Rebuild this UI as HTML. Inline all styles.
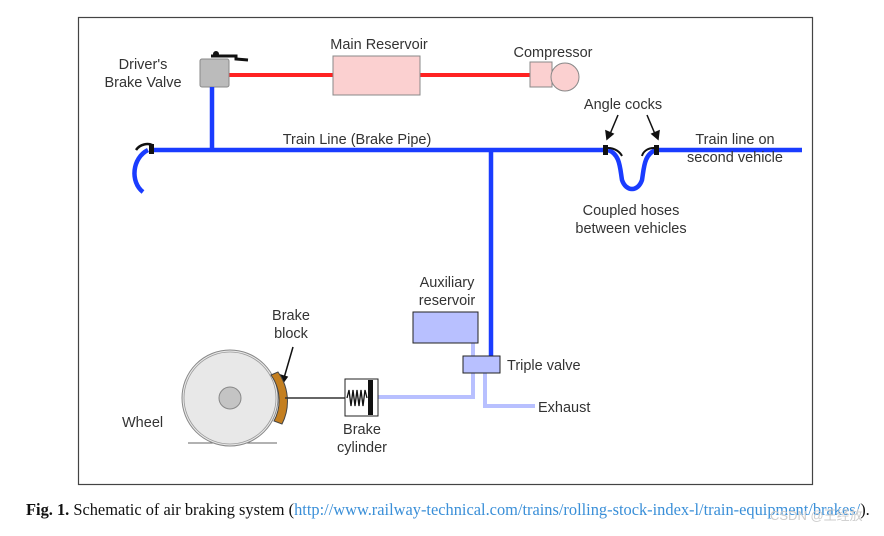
<!DOCTYPE html>
<html><head><style>
body{margin:0;width:884px;height:531px;background:#fff;overflow:hidden}
svg text{font-family:"Liberation Sans",sans-serif;font-size:14.5px;fill:#333}
</style></head><body>
<svg width="884" height="531" viewBox="0 0 884 531">
<rect x="78.5" y="17.5" width="734" height="467" fill="#fff" stroke="#444" stroke-width="1.2"/>
<line x1="229" y1="75" x2="530" y2="75" stroke="#f22" stroke-width="4"/>
<rect x="333" y="56" width="87" height="39" fill="#fbd0d0" stroke="#888"/>
<rect x="530" y="62" width="22" height="25" fill="#fbd0d0" stroke="#888"/>
<circle cx="565" cy="77" r="14" fill="#fbd0d0" stroke="#888"/>
<rect x="200" y="59" width="29" height="28" rx="2" fill="#bbb" stroke="#888"/>
<path d="M211 56 L236 56 L236 59 L248 60" stroke="#111" stroke-width="3" fill="none"/>
<circle cx="216" cy="54" r="3" fill="#111"/>
<g stroke="#1a3cff" stroke-width="4.5" fill="none">
<line x1="212" y1="87" x2="212" y2="150"/>
<line x1="152" y1="150" x2="608" y2="150"/>
<line x1="491" y1="150" x2="491" y2="358"/>
<path d="M148 150 C132 158 130 182 143 192"/>
<path d="M608 150 C620 154 620 168 622 180 C626 192 638 192 642 180 C644 168 644 154 656 150"/>
<line x1="656" y1="150" x2="802" y2="150"/>
</g>
<path d="M136 150 C140 144 148 143 152 145" stroke="#111" stroke-width="2.5" fill="none"/>
<rect x="149" y="144" width="5" height="10" fill="#111"/>
<rect x="603" y="145" width="5" height="10" fill="#111"/>
<rect x="654" y="145" width="5" height="10" fill="#111"/>
<path d="M608 148 C615 148 620 152 622 156" stroke="#111" stroke-width="2" fill="none"/>
<path d="M654 148 C647 148 643 152 642 156" stroke="#111" stroke-width="2" fill="none"/>
<g stroke="#111" stroke-width="1.5" fill="#111">
<line x1="618" y1="115" x2="610" y2="134"/><path d="M607 139 L606 131 L613 134 Z"/>
<line x1="647" y1="115" x2="655" y2="134"/><path d="M658 139 L652 134 L659 131 Z"/>
<line x1="293" y1="347" x2="284" y2="378"/><path d="M282 384 L280 375 L287 377 Z"/>
</g>
<g stroke="#b8c0ff" stroke-width="4" fill="none">
<path d="M473 343 L473 397 L378 397"/>
<path d="M485 373 L485 406 L535 406"/>
</g>
<rect x="413" y="312" width="65" height="31" fill="#b8c0ff" stroke="#222"/>
<rect x="463" y="356" width="37" height="17" fill="#b8c0ff" stroke="#222"/>
<line x1="188" y1="443" x2="277" y2="443" stroke="#666"/>
<circle cx="230" cy="398" r="48" fill="#e8e8e8" stroke="#888" stroke-width="1"/>
<circle cx="230" cy="398" r="46" fill="none" stroke="#999" stroke-width="0.8"/>
<circle cx="230" cy="398" r="11" fill="#c4c4c4" stroke="#888"/>
<path d="M271 375 L278 372 A50 50 0 0 1 282 424 L274 421 A44 44 0 0 0 271 375 Z" fill="#c47f20" stroke="#444"/>
<line x1="285" y1="398" x2="345" y2="398" stroke="#333" stroke-width="1.5"/>
<rect x="345" y="379" width="33" height="37" fill="#fff" stroke="#222"/>
<rect x="368" y="380" width="5" height="35" fill="#111"/>
<path d="M347 398 l2 -8 l2 16 l2 -16 l2 16 l2 -16 l2 16 l2 -16 l2 16 l2 -16 l2 8" stroke="#111" stroke-width="1.3" fill="none"/>
<text x="143" y="69" text-anchor="middle">Driver's</text>
<text x="143" y="87" text-anchor="middle">Brake Valve</text>
<text x="379" y="49" text-anchor="middle">Main Reservoir</text>
<text x="553" y="57" text-anchor="middle">Compressor</text>
<text x="357" y="144" text-anchor="middle">Train Line (Brake Pipe)</text>
<text x="623" y="109" text-anchor="middle">Angle cocks</text>
<text x="735" y="144" text-anchor="middle">Train line on</text>
<text x="735" y="162" text-anchor="middle">second vehicle</text>
<text x="631" y="215" text-anchor="middle">Coupled hoses</text>
<text x="631" y="233" text-anchor="middle">between vehicles</text>
<text x="447" y="287" text-anchor="middle">Auxiliary</text>
<text x="447" y="305" text-anchor="middle">reservoir</text>
<text x="507" y="370">Triple valve</text>
<text x="538" y="412">Exhaust</text>
<text x="291" y="320" text-anchor="middle">Brake</text>
<text x="291" y="338" text-anchor="middle">block</text>
<text x="122" y="427">Wheel</text>
<text x="362" y="434" text-anchor="middle">Brake</text>
<text x="362" y="452" text-anchor="middle">cylinder</text>
<text x="26" y="515" style="font-family:'Liberation Serif',serif;font-size:16.4px;fill:#111"><tspan font-weight="bold">Fig. 1.</tspan> Schematic of air braking system (<tspan fill="#3a8fd8">http://www.railway-technical.com/trains/rolling-stock-index-l/train-equipment/brakes/</tspan>).</text>
<text x="770" y="520" style="font-size:13px;fill:#ccc">CSDN @王经放</text>
</svg>
</body></html>
